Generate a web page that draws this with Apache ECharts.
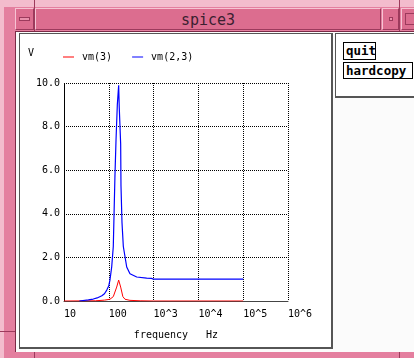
<!DOCTYPE html>
<html>
<head>
<meta charset="utf-8">
<script src="https://cdn.jsdelivr.net/npm/echarts@6/dist/echarts.min.js"></script>
<style>
  html, body { margin: 0; padding: 0; }
  body { width: 414px; height: 358px; position: relative; overflow: hidden; background: #e47f9f; font-family: "DejaVu Sans Mono", monospace; }
  .abs { position: absolute; box-sizing: border-box; }
  #chart { position: absolute; left: 0; top: 0; width: 414px; height: 358px; }
</style>
</head>
<body>
<!-- window frame -->
<div class="abs" style="left:0;top:0;width:414px;height:7px;background:#f3bccd;"></div>
<div class="abs" style="left:0;top:0;width:4px;height:358px;background:#f3bccd;"></div>
<div class="abs" style="left:34px;top:0;width:1px;height:31px;background:#9c3a5c;"></div>
<div class="abs" style="left:399px;top:0;width:1px;height:31px;background:#9c3a5c;"></div>
<div class="abs" style="left:0;top:331px;width:15px;height:1px;background:#9c3a5c;"></div>
<div class="abs" style="left:34px;top:352px;width:1px;height:6px;background:#9c3a5c;"></div>
<div class="abs" style="left:399px;top:352px;width:1px;height:6px;background:#9c3a5c;"></div>
<!-- title bar -->
<div class="abs" style="left:35px;top:8px;width:346px;height:22px;background:#dc6d8f;border-top:1px solid #f6c3d3;border-left:1px solid #f6c3d3;border-bottom:1px solid #9c3a5c;border-right:1px solid #9c3a5c;"></div>
<div class="abs" style="left:35px;top:9px;width:346px;height:22px;line-height:22px;text-align:center;font-size:15px;color:#3a2030;">spice3</div>
<div class="abs" style="left:15px;top:8px;width:19px;height:22px;background:#dc6d8f;border-top:1px solid #f6c3d3;border-left:1px solid #f6c3d3;border-bottom:1px solid #9c3a5c;border-right:1px solid #9c3a5c;"></div>
<div class="abs" style="left:19px;top:17px;width:11px;height:4px;background:#e990ab;border:1px solid #9c3a5c;"></div>
<div class="abs" style="left:382px;top:8px;width:17px;height:22px;background:#dc6d8f;border-top:1px solid #f6c3d3;border-left:1px solid #f6c3d3;border-bottom:1px solid #9c3a5c;border-right:1px solid #9c3a5c;"></div>
<div class="abs" style="left:389px;top:17px;width:4px;height:4px;background:#e990ab;border:1px solid #9c3a5c;"></div>
<div class="abs" style="left:401px;top:8px;width:13px;height:22px;background:#dc6d8f;border-top:1px solid #f6c3d3;border-left:1px solid #f6c3d3;border-bottom:1px solid #9c3a5c;"></div>
<div class="abs" style="left:405px;top:13px;width:9px;height:12px;border:1px solid #9c3a5c;border-right:none;"></div>
<!-- client area -->
<div class="abs" style="left:15px;top:31px;width:399px;height:321px;background:#fbfbfb;border-left:1px solid #7a2a46;border-top:1px solid #7a2a46;"></div>
<div class="abs" style="left:19px;top:33px;width:314px;height:316px;background:#fff;border:1px solid #555;border-right:2px solid #555;border-bottom:2px solid #555;"></div>
<div class="abs" style="left:335px;top:33px;width:80px;height:65px;background:#fff;border:1px solid #555;border-bottom:2px solid #555;"></div>
<div class="abs" style="left:343px;top:42px;width:33px;height:18px;border:1px solid #000;font-weight:bold;font-size:12.5px;line-height:15px;padding-left:2px;color:#000;">quit</div>
<div class="abs" style="left:343px;top:62px;width:70px;height:17px;border:1px solid #000;font-weight:bold;font-size:12.5px;line-height:15px;padding-left:2px;color:#000;">hardcopy</div>

<div id="chart"></div>
<script>
// frequency (Hz) / magnitude (V)
const vm3Freq = [10, 50, 80, 106, 126, 150, 166, 184, 206, 230, 297, 500, 1000, 100000];
const vm3Vals = [0, 0.01, 0.04, 0.08, 0.2, 0.64, 0.96, 0.64, 0.2, 0.08, 0.03, 0.01, 0, 0];

const vm23Freq = [22, 35, 45, 55, 70, 80, 90, 100, 106, 116, 126, 137, 145, 155, 166, 171, 184, 187, 197, 211, 251, 297, 420, 700, 900, 1000, 100000];
const vm23Vals = [0, 0.05, 0.09, 0.14, 0.24, 0.33, 0.5, 0.7, 0.96, 1.56, 2.5, 5.7, 7.4, 9.0, 9.9, 8.9, 7.2, 5.3, 3.6, 2.5, 1.56, 1.25, 1.1, 1.05, 1.04, 1.0, 1.0];

const xTickLabels = ['10', '100', '10^3', '10^4', '10^5', '10^6'];
const seriesNames = ['vm(3)', 'vm(2,3)'];

const mono = '"DejaVu Sans Mono", monospace';
const chart = echarts.init(document.getElementById('chart'));

const pairs = (xs, ys) => xs.map((x, i) => [x, ys[i]]);
const dots = { color: '#000', width: 1, type: [1, 1] };

chart.setOption({
  animation: false,
  legend: {
    data: seriesNames,
    left: 58,
    top: 47,
    icon: 'rect',
    itemWidth: 11,
    itemHeight: 1,
    itemGap: 20,
    textStyle: { fontFamily: mono, fontSize: 10, color: '#000', padding: [0, 0, 0, 3] },
  },
  grid: { left: 64, top: 83, width: 224, height: 218 },
  xAxis: {
    type: 'log',
    logBase: 10,
    min: 10,
    max: 1e6,
    name: 'frequency   Hz',
    nameLocation: 'middle',
    nameGap: 29,
    nameTextStyle: { fontFamily: mono, fontSize: 10, color: '#000' },
    axisLine: { show: true, onZero: false, lineStyle: { color: '#444', width: 1 } },
    axisTick: { show: false },
    axisLabel: {
      align: 'left',
      margin: 8,
      color: '#000',
      fontFamily: mono,
      fontSize: 10,
      formatter: v => xTickLabels[Math.round(Math.log10(v)) - 1],
    },
    splitLine: { show: true, lineStyle: dots },
  },
  yAxis: {
    type: 'value',
    min: 0,
    max: 10,
    interval: 2,
    name: 'V',
    nameLocation: 'end',
    nameGap: 30,
    nameTextStyle: { fontFamily: mono, fontSize: 10, color: '#000', align: 'right', verticalAlign: 'middle', padding: [0, 30, 0, 0] },
    axisLine: { show: true, lineStyle: dots },
    axisTick: { show: false },
    axisLabel: { margin: 4, color: '#000', fontFamily: mono, fontSize: 10, formatter: v => v.toFixed(1) },
    splitLine: { show: true, lineStyle: dots },
  },
  series: [
    {
      name: seriesNames[0],
      type: 'line',
      data: pairs(vm3Freq, vm3Vals),
      showSymbol: false,
      color: '#ff0000',
      lineStyle: { width: 1, color: '#ff0000' },
    },
    {
      name: seriesNames[1],
      type: 'line',
      data: pairs(vm23Freq, vm23Vals),
      showSymbol: false,
      color: '#0000ff',
      lineStyle: { width: 1.2, color: '#0000ff' },
    },
  ],
});
</script>
</body>
</html>
